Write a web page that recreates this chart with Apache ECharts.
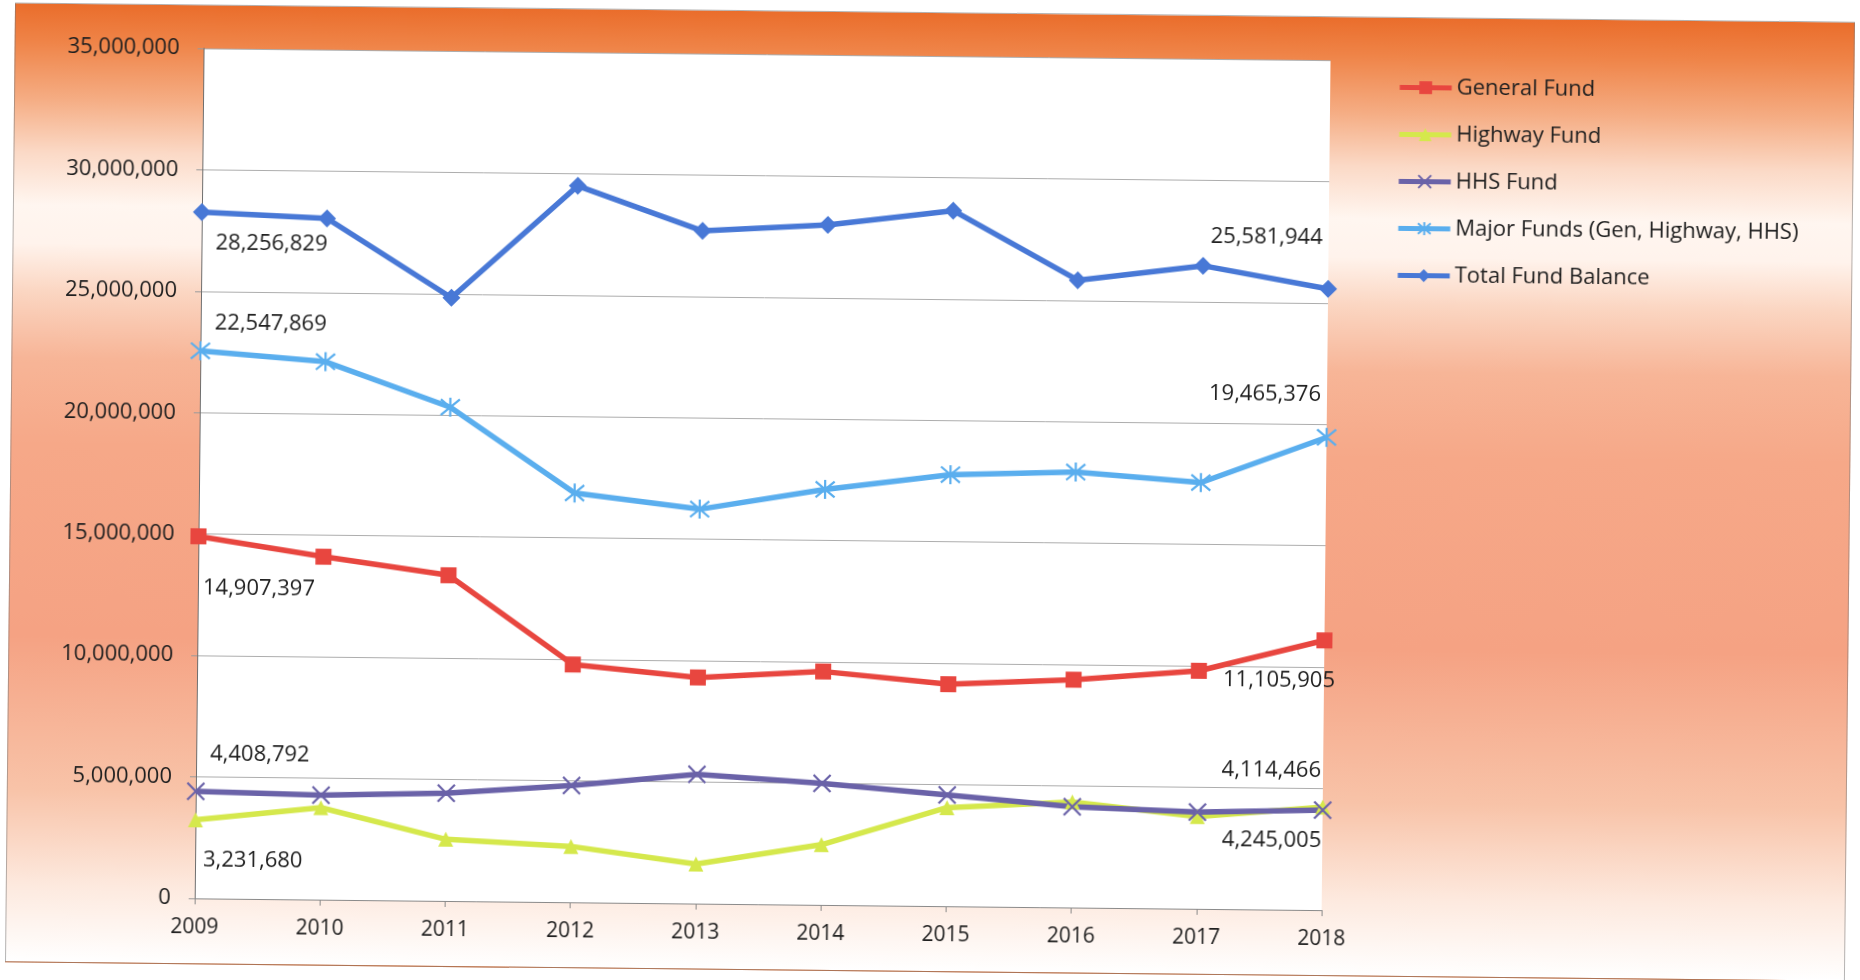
<!DOCTYPE html>
<html>
<head>
<meta charset="utf-8">
<title>Fund Balances 2009-2018</title>
<script src="https://cdn.jsdelivr.net/npm/echarts@6/dist/echarts.min.js"></script>
<style>
  html, body { margin: 0; padding: 0; background: #ffffff; overflow: hidden; }
  #sheet {
    position: absolute; left: 0; top: 0; width: 1860px; height: 980px;
    transform: rotate(0.6deg); transform-origin: 930px 490px;
  }
  #frame {
    position: absolute; left: 10px; top: 12px; width: 1840px; height: 960px;
    box-sizing: border-box; border: 1px solid rgba(120,120,120,0.55);
    background: linear-gradient(to bottom,
      #ea6d2b 0%, #ef8448 4%, #f5ad84 10%, #fbd9c6 15.5%, #fff6f0 21%,
      #fff3ec 25%, #fbd6c2 30%, #f7b597 37%, #f6a888 46%, #f5a283 66%, #f8c3a8 82%,
      #fde9de 92%, #ffffff 100%);
  }
  #chart { position: absolute; left: 0; top: 0; width: 1860px; height: 980px; }
</style>
</head>
<body>
<div id="sheet">
  <div id="frame"></div>
  <div id="chart"></div>
</div>
<script>
// Fiscal years on the category axis
const years = ['2009', '2010', '2011', '2012', '2013', '2014', '2015', '2016', '2017', '2018'];

// Fund balances by year (dollars)
const generalFund = [14907397, 14120000, 13410000, 9790000, 9310000, 9610000, 9140000, 9380000, 9800000, 11105905];
const highwayFund = [3231680, 3790000, 2540000, 2300000, 1630000, 2480000, 4060000, 4340000, 3800000, 4245005];
const hhsFund = [4408792, 4300000, 4440000, 4810000, 5320000, 5000000, 4580000, 4150000, 3980000, 4114466];
const majorFunds = [22547869, 22150000, 20330000, 16850000, 16240000, 17110000, 17770000, 17930000, 17550000, 19465376];
const totalFundBalance = [28256829, 28050000, 24840000, 29500000, 27700000, 28000000, 28640000, 25830000, 26480000, 25581944];

// Value axis ticks
const axisMin = 0;
const axisMax = 35000000;
const axisStep = 5000000;

const FONT = '"Open Sans", "Noto Sans", sans-serif';
const TEXT = '#1e1e1e';

const fmt = v => Number(v).toLocaleString('en-US');

// Put a value label on the first and last point of a series
function withEndLabels(values, first, last) {
  return values.map((v, i) => {
    if (i === 0 || i === values.length - 1) {
      const p = i === 0 ? first : last;
      return {
        value: v,
        label: {
          show: true, position: 'inside', align: p.align, verticalAlign: 'middle',
          offset: p.offset, formatter: fmt(v), color: TEXT, fontSize: 22, fontFamily: FONT
        }
      };
    }
    return v;
  });
}

const xMark = 'path://M0,0L10,10M10,0L0,10';
const starMark = 'path://M0,1L10,11M10,1L0,11M5,0L5,12';

function lineSeries(name, color, data, symbol, size, stroke) {
  return {
    name: name, type: 'line', data: data,
    symbol: symbol, symbolSize: size, showSymbol: true,
    lineStyle: { color: color, width: 5.5 },
    itemStyle: stroke
      ? { color: color, borderColor: color, borderWidth: 2.2 }
      : { color: color },
    label: { show: false },
    emphasis: { disabled: true }
  };
}

const chart = echarts.init(document.getElementById('chart'), null, { renderer: 'canvas' });

chart.setOption({
  backgroundColor: 'transparent',
  animation: false,
  textStyle: { fontFamily: FONT, color: TEXT },
  grid: {
    left: 199, right: 534, top: 56, bottom: 74,
    show: true, backgroundColor: '#ffffff', borderWidth: 0
  },
  legend: {
    orient: 'vertical', left: 1388, top: 65,
    itemWidth: 52, itemHeight: 16, itemGap: 22,
    lineStyle: { width: 5 },
    textStyle: { fontSize: 22, color: TEXT, fontFamily: FONT, lineHeight: 25 },
    data: ['General Fund', 'Highway Fund', 'HHS Fund', 'Major Funds (Gen, Highway, HHS)', 'Total Fund Balance']
  },
  xAxis: {
    type: 'category', data: years, boundaryGap: false,
    axisLine: { lineStyle: { color: '#8a8a8a', width: 1 } },
    axisTick: { show: true, length: 6, lineStyle: { color: '#8a8a8a' } },
    axisLabel: { color: TEXT, fontSize: 21, fontFamily: FONT, margin: 19 },
    splitLine: { show: false }
  },
  yAxis: {
    type: 'value', min: axisMin, max: axisMax, interval: axisStep,
    axisLine: { show: true, lineStyle: { color: '#6e6e6e', width: 1 } },
    axisTick: { show: true, length: 6, lineStyle: { color: '#9a9a9a' } },
    axisLabel: { color: TEXT, fontSize: 22, fontFamily: FONT, margin: 24, formatter: fmt },
    splitLine: { show: true, lineStyle: { color: '#adadad', width: 1 } }
  },
  series: [
    lineSeries('General Fund', '#e8463f',
      withEndLabels(generalFund, { align: 'left', offset: [5, 52] }, { align: 'right', offset: [11, 40] }),
      'rect', 16, false),
    lineSeries('Highway Fund', '#d5e84c',
      withEndLabels(highwayFund, { align: 'left', offset: [8, 40] }, { align: 'right', offset: [-1, 34] }),
      'triangle', 15, false),
    lineSeries('HHS Fund', '#6a62a8',
      withEndLabels(hhsFund, { align: 'left', offset: [14, -37] }, { align: 'right', offset: [-2, -39] }),
      xMark, 17, true),
    lineSeries('Major Funds (Gen, Highway, HHS)', '#5aaeee',
      withEndLabels(majorFunds, { align: 'left', offset: [14, -28] }, { align: 'right', offset: [-6, -43] }),
      starMark, 19, true),
    lineSeries('Total Fund Balance', '#4878d6',
      withEndLabels(totalFundBalance, { align: 'left', offset: [14, 31] }, { align: 'right', offset: [-6, -51] }),
      'diamond', 18, false)
  ]
});
</script>
</body>
</html>
